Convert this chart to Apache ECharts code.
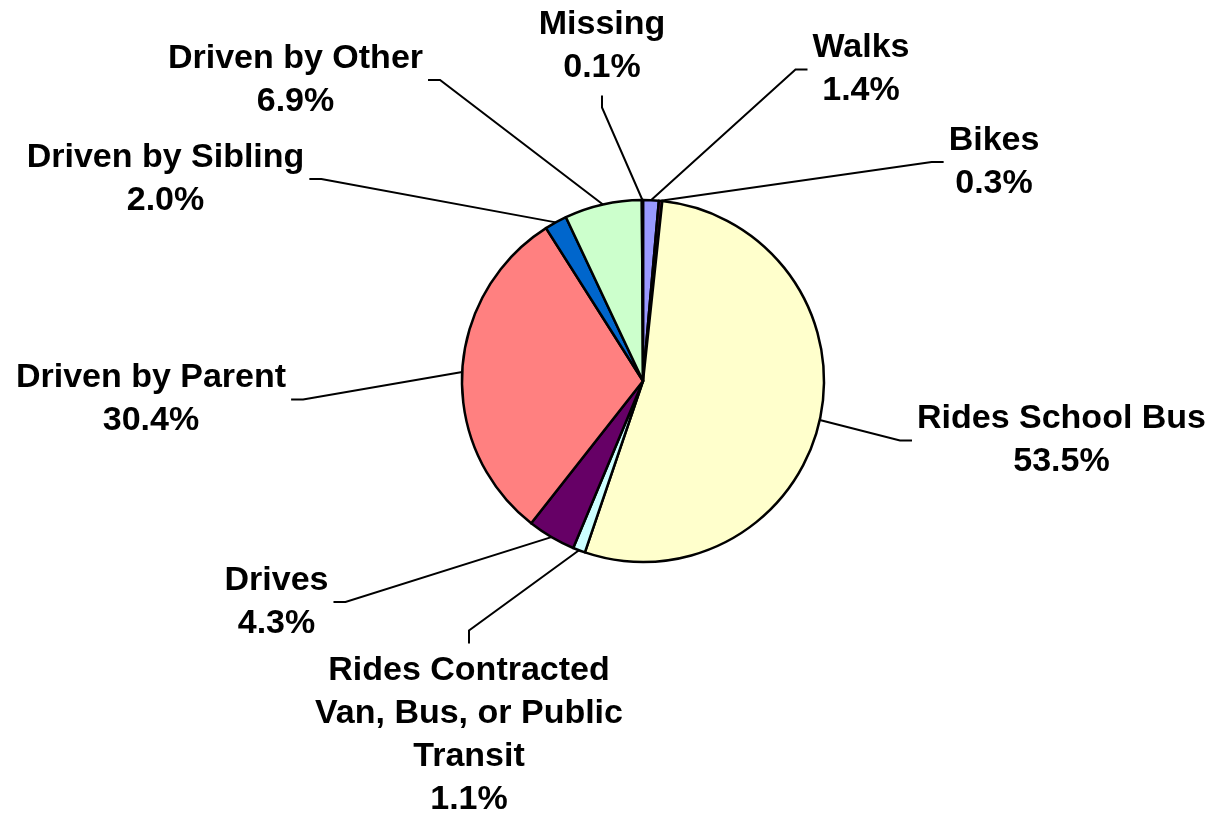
<!DOCTYPE html>
<html lang="en">
<head>
    <meta charset="UTF-8">
    <title>How students get to school</title>
    <script type="text/javascript" src="https://cdn.jsdelivr.net/npm/echarts@6/dist/echarts.min.js"></script>
    <style>
        body { margin: 0; background: #fff; }
    </style>
</head>
<body>
<div id="pie-travel" style="width: 1216px;height: 819px"></div>
<script type="text/javascript">
    // slice names, clockwise from 12 o'clock
    var categories = [
        'Walks',
        'Bikes',
        'Rides School Bus',
        'Rides Contracted\nVan, Bus, or Public\nTransit',
        'Drives',
        'Driven by Parent',
        'Driven by Sibling',
        'Driven by Other',
        'Missing'
    ];
    // percent of students
    var shares = [1.4, 0.3, 53.5, 1.1, 4.3, 30.4, 2.0, 6.9, 0.1];
    var sliceColors = ['#9999FF', '#551133', '#FFFFCC', '#CCFFFF', '#660066',
                       '#FF8080', '#0066CC', '#CCFFCC', '#000080'];

    // where each label sits (centre of text block) and which side its leader line joins
    var labelSpots = [
        [861, 69.5, 'w'],
        [994, 162, 'w'],
        [1061.5, 440.5, 'w'],
        [469, 735.5, 'n'],
        [276.5, 602, 'e'],
        [151, 399.5, 'e'],
        [165.5, 179, 'e'],
        [295.5, 80, 'e'],
        [602, 46.5, 's']
    ];

    var chartDom = document.getElementById('pie-travel');
    var myChart = echarts.init(chartDom);

    var bufData = [];
    for (var i = 0; i < categories.length; i++) {
        bufData.push({
            name: categories[i],
            value: shares[i],
            itemStyle: { color: sliceColors[i] }
        });
    }

    var option = {
        animation: false,
        backgroundColor: '#ffffff',
        series: [
            {
                type: 'pie',
                center: [643, 381],
                radius: 181,
                startAngle: 90,
                clockwise: true,
                avoidLabelOverlap: false,
                data: bufData,
                itemStyle: {
                    borderColor: '#000',
                    borderWidth: 2.5
                },
                label: {
                    show: true,
                    position: 'outside',
                    formatter: function (p) {
                        return p.name + '\n' + p.value.toFixed(1) + '%';
                    },
                    fontFamily: 'Liberation Sans',
                    fontWeight: 'bold',
                    fontSize: 34,
                    lineHeight: 43,
                    color: '#000',
                    align: 'center'
                },
                labelLine: {
                    show: true,
                    length: 10,
                    length2: 10,
                    lineStyle: { color: '#000', width: 2 }
                },
                emphasis: { disabled: true },
                labelLayout: function (params) {
                    var spot = labelSpots[params.dataIndex];
                    var x = spot[0], y = spot[1];
                    var w = params.labelRect.width / 2;
                    var h = params.labelRect.height / 2;
                    var start = params.labelLinePoints ? params.labelLinePoints[0] : [x, y];
                    var end, elbow;
                    if (spot[2] === 'w') {
                        end = [x - w - 5, y]; elbow = [x - w - 17, y];
                    } else if (spot[2] === 'e') {
                        end = [x + w + 5, y]; elbow = [x + w + 17, y];
                    } else if (spot[2] === 'n') {
                        end = [x, y - h - 6]; elbow = [x, y - h - 19];
                    } else {
                        end = [x, y + h + 6]; elbow = [x, y + h + 18];
                    }
                    return {
                        x: x,
                        y: y,
                        align: 'center',
                        verticalAlign: 'middle',
                        labelLinePoints: [start, elbow, end]
                    };
                }
            }
        ]
    };

    option && myChart.setOption(option);
</script>
</body>
</html>
